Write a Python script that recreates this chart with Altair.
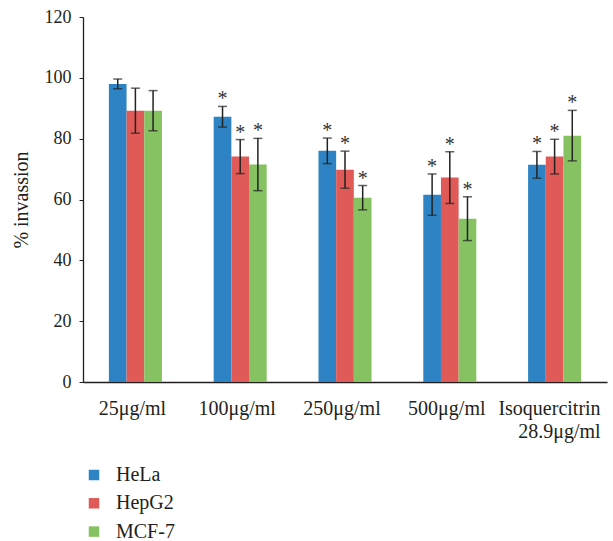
import altair as alt
import pandas as pd

groups = ["25μg/ml", "100μg/ml", "250μg/ml", "500μg/ml", "Isoquercitrin 28.9μg/ml"]
series = ["HeLa", "HepG2", "MCF-7"]
colors = ["#2E83C4", "#E05A57", "#86C162"]

hela = [98.0, 87.2, 76.0, 61.6, 71.4]
hela_err = [1.6, 3.4, 4.2, 6.8, 4.4]
hepg2 = [89.2, 74.1, 69.8, 67.2, 74.1]
hepg2_err = [7.4, 5.6, 6.1, 8.5, 5.7]
mcf7 = [89.2, 71.5, 60.6, 53.7, 81.0]
mcf7_err = [6.6, 8.6, 4.0, 7.2, 8.3]
significant = [False, True, True, True, True]

rows = []
for s, vals, errs in [("HeLa", hela, hela_err), ("HepG2", hepg2, hepg2_err), ("MCF-7", mcf7, mcf7_err)]:
    for g, v, e, sig in zip(groups, vals, errs, significant):
        rows.append(dict(group=g, line=s, value=v, lo=v - e, hi=v + e, star="*" if sig else ""))
df = pd.DataFrame(rows)

INK = "#231f20"
FONT = "Liberation Serif"
ISO = "Isoquercitrin 28.9μg/ml"

x = alt.X(
    "group:N",
    sort=groups,
    scale=alt.Scale(paddingInner=0.494, paddingOuter=0.247),
    axis=alt.Axis(
        title=None,
        ticks=False,
        labelAngle=0,
        labelFont=FONT,
        labelFontSize=20,
        labelPadding=16,
        labelLineHeight=23,
        labelOverlap=False,
        labelColor=INK,
        domainColor=INK,
        domainWidth=1.3,
        labelExpr=f"datum.value == '{ISO}' ? ['Isoquercitrin', '28.9μg/ml'] : datum.label",
        labelAlign={"condition": {"test": f"datum.value == '{ISO}'", "value": "right"}, "value": "center"},
        labelOffset={"condition": {"test": f"datum.value == '{ISO}'", "value": 46}, "value": -3},
    ),
)
xo = alt.XOffset("line:N", sort=series, scale=alt.Scale(paddingInner=0, paddingOuter=0))
yscale = alt.Scale(domain=[0, 120], nice=False)

bars = alt.Chart(df).mark_bar().encode(
    x=x,
    xOffset=xo,
    y=alt.Y(
        "value:Q",
        scale=yscale,
        axis=alt.Axis(
            values=[0, 20, 40, 60, 80, 100, 120],
            grid=False,
            tickSize=4,
            tickColor=INK,
            labelPadding=8,
            labelFont=FONT,
            labelFontSize=18,
            labelColor=INK,
            domainColor=INK,
            domainWidth=1.3,
            title="% invassion",
            titleFont=FONT,
            titleFontSize=20,
            titleFontWeight="normal",
            titleColor=INK,
            titleX=-56,
            titleY=182.5,
            titleAngle=-90,
            titleAlign="center",
            titleBaseline="alphabetic",
        ),
    ),
    color=alt.Color(
        "line:N",
        sort=series,
        scale=alt.Scale(domain=series, range=colors),
        legend=alt.Legend(
            orient="none",
            legendX=1,
            legendY=448,
            direction="vertical",
            title=None,
            symbolType="square",
            symbolSize=110,
            symbolStrokeWidth=0,
            labelFont=FONT,
            labelFontSize=20,
            labelColor=INK,
            labelOffset=12,
            rowPadding=8.3,
        ),
    ),
)

rule = alt.Chart(df).mark_rule(color="#222", strokeWidth=1.5).encode(
    x=x, xOffset=xo, y=alt.Y("lo:Q", scale=yscale), y2="hi:Q"
)
cap_hi = alt.Chart(df).mark_tick(color="#222", thickness=1.5, size=9).encode(
    x=x, xOffset=xo, y=alt.Y("hi:Q", scale=yscale)
)
cap_lo = alt.Chart(df).mark_tick(color="#222", thickness=1.5, size=9).encode(
    x=x, xOffset=xo, y=alt.Y("lo:Q", scale=yscale)
)
stars = alt.Chart(df).mark_text(
    fontSize=20, color="#333", baseline="alphabetic", dy=-1, font=FONT
).encode(x=x, xOffset=xo, y=alt.Y("hi:Q", scale=yscale), text="star:N")

chart = (
    alt.layer(bars, rule, cap_hi, cap_lo, stars)
    .properties(
        width=524,
        height=365,
        autosize=alt.AutoSizeParams(type="none"),
        padding={"left": 83, "top": 17, "right": 6, "bottom": 159},
    )
    .configure(font=FONT)
    .configure_view(stroke=None)
    .configure_axis(labelFont=FONT, titleFont=FONT)
    .configure_legend(labelFont=FONT)
)

chart.save("out.html", embed_options={"renderer": "svg", "actions": False})
